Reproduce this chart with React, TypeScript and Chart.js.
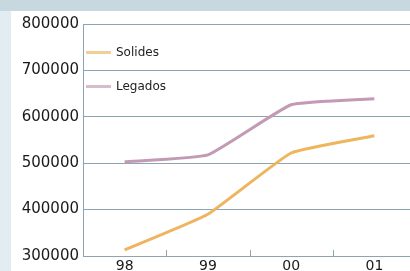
import React, { useEffect, useRef } from "react";
import { Chart, registerables } from "chart.js";

Chart.register(...registerables);

const categories = ["98", "99", "00", "01"];
const solides = [313000, 390000, 522000, 559000];
const legados = [503000, 518000, 626000, 639000];
const yTicks = [300000, 400000, 500000, 600000, 700000, 800000];

const GRID = "#8aa6b5";

const innerTicks = {
  id: "innerTicks",
  afterDraw(chart: any) {
    const x = chart.scales.x;
    const { ctx, chartArea } = chart;
    ctx.save();
    ctx.strokeStyle = GRID;
    ctx.lineWidth = 1;
    for (let i = 1; i < categories.length; i++) {
      const px = Math.round((x.getPixelForValue(i - 1) + x.getPixelForValue(i)) / 2) + 0.5;
      ctx.beginPath();
      ctx.moveTo(px, chartArea.bottom);
      ctx.lineTo(px, chartArea.bottom - 6);
      ctx.stroke();
    }
    ctx.restore();
  },
};

export default function App() {
  const ref = useRef<HTMLCanvasElement>(null);
  useEffect(() => {
    const c = new Chart(ref.current!, {
      type: "line",
      data: {
        labels: categories,
        datasets: [
          { label: "Solides", data: solides, borderColor: "#eeb45e", borderWidth: 3, pointRadius: 0, tension: 0.12 },
          { label: "Legados", data: legados, borderColor: "#c29ab4", borderWidth: 3, pointRadius: 0, tension: 0.12 },
        ],
      },
      options: {
        responsive: false,
        animation: false,
        layout: { padding: { top: 24, left: 0, right: 0, bottom: 0 } },
        plugins: { legend: { display: false }, tooltip: { enabled: false } },
        scales: {
          x: {
            offset: true,
            grid: { drawOnChartArea: false, drawTicks: false, color: GRID },
            border: { display: false },
            ticks: { padding: 2, color: "#1a1a1a", font: { family: "DejaVu Sans", size: 14 } },
            afterFit: (s: any) => { s.height = 29; },
          },
          y: {
            min: yTicks[0],
            max: yTicks[yTicks.length - 1],
            afterBuildTicks: (s: any) => { s.ticks = yTicks.map((v) => ({ value: v })); },
            grid: { color: GRID, drawTicks: false, lineWidth: 1 },
            border: { display: true, color: GRID },
            ticks: {
              padding: 4,
              color: "#1a1a1a",
              font: { family: "DejaVu Sans", size: 15 },
              callback: (v: any) => String(v),
            },
            afterFit: (s: any) => { s.width = 83; },
          },
        },
      },
      plugins: [innerTicks],
    });
    return () => c.destroy();
  }, []);

  const legendText: React.CSSProperties = {
    position: "absolute",
    left: 116,
    fontFamily: "DejaVu Sans",
    fontSize: 12,
    color: "#222",
    lineHeight: "14px",
  };
  const swatch = (top: number, color: string): React.CSSProperties => ({
    position: "absolute",
    left: 86,
    top,
    width: 25,
    height: 3,
    background: color,
  });

  return (
    <div style={{ position: "fixed", left: 0, top: 0, width: 410, height: 271, overflow: "hidden", background: "#ffffff" }}>
      <div style={{ position: "absolute", left: 0, top: 0, width: 410, height: 11, background: "#c7d8df" }} />
      <div style={{ position: "absolute", left: 0, top: 11, width: 11, height: 260, background: "#e3ecf0" }} />
      <canvas ref={ref} width={416} height={285} style={{ position: "absolute", left: 0, top: 0 }} />
      <div style={swatch(51, "#f2cf98")} />
      <div style={{ ...legendText, top: 45 }}>Solides</div>
      <div style={swatch(85, "#d8bccd")} />
      <div style={{ ...legendText, top: 79 }}>Legados</div>
    </div>
  );
}
